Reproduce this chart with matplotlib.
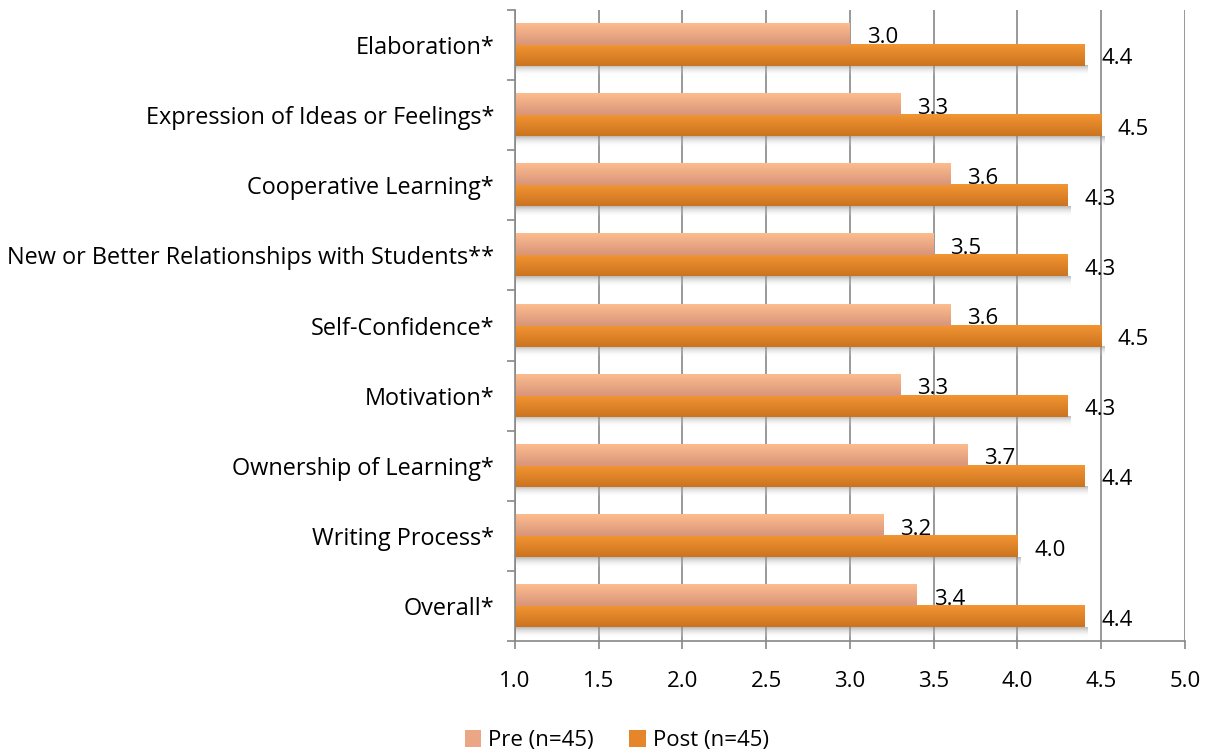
import numpy as np
import matplotlib.pyplot as plt
from matplotlib.patches import Patch
import matplotlib.colors as mcolors

plt.rcParams['font.family'] = ['Open Sans', 'DejaVu Sans']

categories = ["Elaboration*", "Expression of Ideas or Feelings*", "Cooperative Learning*",
              "New or Better Relationships with Students**", "Self-Confidence*", "Motivation*",
              "Ownership of Learning*", "Writing Process*", "Overall*"]
pre = [3.0, 3.3, 3.6, 3.5, 3.6, 3.3, 3.7, 3.2, 3.4]
post = [4.4, 4.5, 4.3, 4.3, 4.5, 4.3, 4.4, 4.0, 4.4]
xticks = [1.0, 1.5, 2.0, 2.5, 3.0, 3.5, 4.0, 4.5, 5.0]

fig = plt.figure(figsize=(12.09, 7.51), dpi=100)
ax = fig.add_axes([0.426, 0.146, 0.554, 0.841])

n = len(categories)
y = np.arange(n)
h = 0.3

shadow_cmap = mcolors.LinearSegmentedColormap.from_list(
    "s", [(0.55, 0.55, 0.55, 0.6), (1, 1, 1, 0)])


def grad_bar(yc, val, c_top, c_bot, shadow=True):
    cmap = mcolors.LinearSegmentedColormap.from_list("g", [c_top, c_bot])
    grad = np.linspace(0, 1, 50).reshape(-1, 1)
    if shadow:
        ax.imshow(np.linspace(0, 1, 20).reshape(-1, 1), cmap=shadow_cmap,
                  extent=[1.0, val + 0.02, yc + h / 2 + 0.15, yc + h / 2],
                  aspect='auto', zorder=1.5)
    ax.imshow(grad, cmap=cmap, extent=[1.0, val, yc + h / 2, yc - h / 2],
              aspect='auto', zorder=2)


for i in range(n):
    yp = y[i] - h / 2
    yq = y[i] + h / 2
    grad_bar(yq, post[i], "#F39533", "#CB731F")
    grad_bar(yp, pre[i], "#FDBC8E", "#D8957A", shadow=False)
    ax.text(pre[i] + 0.1, yp + 0.05, "%.1f" % pre[i], va='center', ha='left',
            fontsize=16, color='black', zorder=1.8)
    ax.text(post[i] + 0.1, yq + 0.05, "%.1f" % post[i], va='center', ha='left',
            fontsize=16, color='black', zorder=1.8)

ax.set_xlim(1.0, 5.0)
ax.set_ylim(n - 0.5, -0.5)
ax.set_xticks(xticks)
ax.set_xticklabels(["%.1f" % v for v in xticks], fontsize=16)
ax.set_yticks(y)
ax.set_yticklabels(categories, fontsize=16.9)
ax.set_yticks(np.arange(n + 1) - 0.5, minor=True)
ax.tick_params(axis='y', which='major', length=0, pad=15)
ax.tick_params(axis='y', which='minor', length=6, color='#888888', width=1.2)
ax.tick_params(axis='x', length=6, color='#888888', width=1.2, pad=15)
ax.grid(axis='x', color='#888888', linewidth=1.2, zorder=0)
ax.set_axisbelow(True)
for s in ['top', 'right']:
    ax.spines[s].set_visible(False)
for s in ['left', 'bottom']:
    ax.spines[s].set_color('#888888')
    ax.spines[s].set_linewidth(1.2)

handles = [Patch(facecolor="#EBA785", edgecolor='none', label="Pre (n=45)"),
           Patch(facecolor="#E5862B", edgecolor='none', label="Post (n=45)")]
fig.legend(handles=handles, loc='lower center', ncol=2, frameon=False, fontsize=16,
           bbox_to_anchor=(0.51, -0.027), handlelength=0.75, handleheight=0.75,
           handletextpad=0.3, columnspacing=1.6)

fig.savefig("out.png", dpi=100)
